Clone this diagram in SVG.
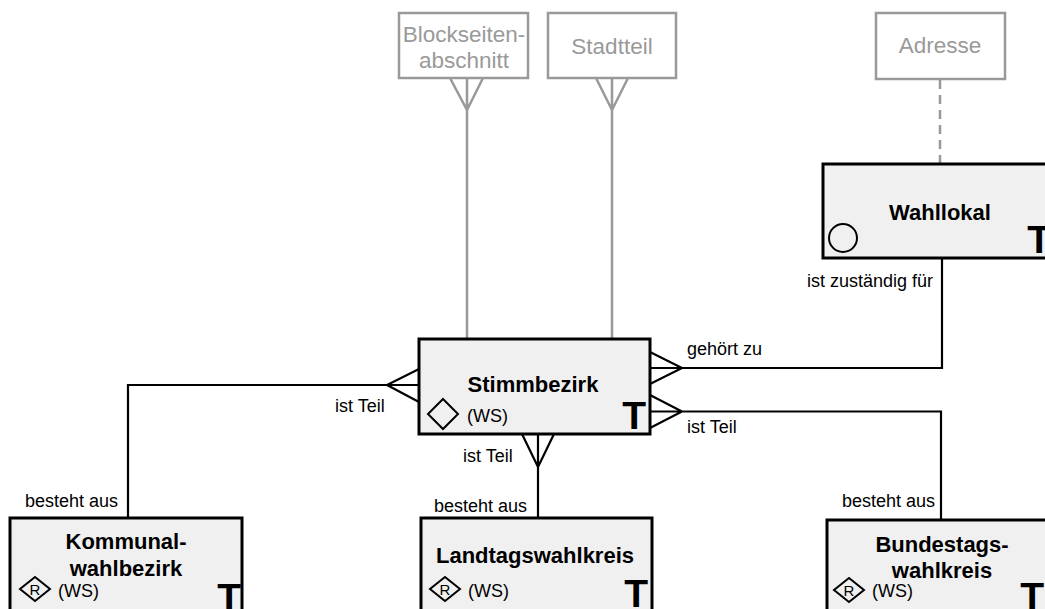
<svg xmlns="http://www.w3.org/2000/svg" width="1045" height="609" viewBox="0 0 1045 609">
<style>
.ent{fill:#f0f0f0;stroke:#000;stroke-width:3}
.ext{fill:#fff;stroke:#999;stroke-width:2.5}
.extt{font-family:"Liberation Sans",Arial,sans-serif;font-size:22.5px;fill:#999;text-anchor:middle}
.title{font-family:"Liberation Sans",Arial,sans-serif;font-size:22px;font-weight:bold;fill:#000;text-anchor:middle}
.lbl{font-family:"Liberation Sans",Arial,sans-serif;font-size:18px;fill:#000}
.big{font-family:"Liberation Sans",Arial,sans-serif;font-size:39px;font-weight:bold;fill:#000;text-anchor:end}
.r{font-family:"Liberation Sans",Arial,sans-serif;font-size:15px;fill:#000;text-anchor:middle}
.sym{fill:none;stroke:#000;stroke-width:2}
.ln{fill:none;stroke:#000;stroke-width:2.2}
.gln{fill:none;stroke:#999;stroke-width:2.5}
</style>
<g id="connectors">
  <path class="gln" d="M467,78 V339 M450,78 L467,110 L483,78"/>
  <path class="gln" d="M612,78 V339 M596,78 L612,110 L628,78"/>
  <path class="gln" d="M940,80 V163" stroke-dasharray="9 6" stroke-width="3"/>
  <path class="ln" d="M650,352 L682,368 L650,384 M650,368 H942 V258"/>
  <path class="ln" d="M650,395 L682,411.5 L650,428 M650,411.5 H941 V520"/>
  <path class="ln" d="M419,369 L387,385 L419,402 M419,385 H128 V518"/>
  <path class="ln" d="M522,434 L538,467 L554,434 M538,434 V519"/>
  <text class="lbl" x="807" y="287">ist zuständig für</text>
  <text class="lbl" x="687" y="355">gehört zu</text>
  <text class="lbl" x="687" y="433">ist Teil</text>
  <text class="lbl" x="335" y="412">ist Teil</text>
  <text class="lbl" x="463" y="462">ist Teil</text>
  <text class="lbl" x="25" y="507">besteht aus</text>
  <text class="lbl" x="434" y="512">besteht aus</text>
  <text class="lbl" x="842" y="507">besteht aus</text>
</g>
<g id="blockseitenabschnitt">
  <rect class="ext" x="399" y="13" width="129" height="65"/>
  <text class="extt" x="464" y="42">Blockseiten-</text>
  <text class="extt" x="464" y="68">abschnitt</text>
</g>
<g id="stadtteil">
  <rect class="ext" x="548" y="13" width="128" height="65"/>
  <text class="extt" x="612" y="54">Stadtteil</text>
</g>
<g id="adresse">
  <rect class="ext" x="876" y="13" width="129" height="66"/>
  <text class="extt" x="940" y="53">Adresse</text>
</g>
<g id="wahllokal">
  <rect class="ent" x="823" y="164" width="234" height="94"/>
  <text class="title" x="940" y="220">Wahllokal</text>
  <circle class="sym" cx="843" cy="238" r="14"/>
  <text class="big" x="1051" y="253">T</text>
</g>
<g id="stimmbezirk">
  <rect class="ent" x="419" y="339" width="231" height="95"/>
  <text class="title" x="533" y="392">Stimmbezirk</text>
  <polygon class="sym" points="443,399 458,414 443,429 428,414"/>
  <text class="lbl" x="467" y="422">(WS)</text>
  <text class="big" x="646" y="429">T</text>
</g>
<g id="kommunalwahlbezirk">
  <rect class="ent" x="10" y="518" width="232" height="96"/>
  <text class="title" x="126" y="549">Kommunal-</text>
  <text class="title" x="126" y="576">wahlbezirk</text>
  <polygon class="sym" points="35,577 50,589 35,601 20,589"/>
  <text class="r" x="35" y="594.5">R</text>
  <text class="lbl" x="58" y="597">(WS)</text>
  <text class="big" x="241" y="611">T</text>
</g>
<g id="landtagswahlkreis">
  <rect class="ent" x="421" y="518" width="231" height="96"/>
  <text class="title" x="535" y="563">Landtagswahlkreis</text>
  <polygon class="sym" points="445,577 460,589 445,601 430,589"/>
  <text class="r" x="445" y="594.5">R</text>
  <text class="lbl" x="468" y="597">(WS)</text>
  <text class="big" x="648" y="607">T</text>
</g>
<g id="bundestagswahlkreis">
  <rect class="ent" x="827" y="520" width="230" height="96"/>
  <text class="title" x="942" y="552">Bundestags-</text>
  <text class="title" x="942" y="578">wahlkreis</text>
  <polygon class="sym" points="849,578 864,590 849,602 834,590"/>
  <text class="r" x="849" y="595.5">R</text>
  <text class="lbl" x="872" y="597">(WS)</text>
  <text class="big" x="1044" y="610">T</text>
</g>
</svg>
